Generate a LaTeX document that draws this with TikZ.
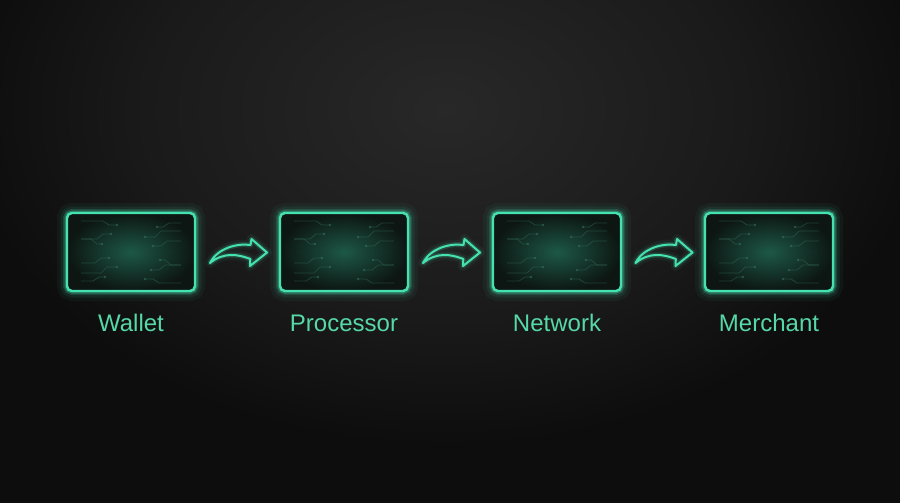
\documentclass[tikz,border=0pt]{standalone}
\usepackage{fontspec}
\setmainfont{Liberation Sans}
\usetikzlibrary{calc}
\definecolor{bgtop}{HTML}{282828}
\definecolor{bgmid}{HTML}{1A1A1A}
\definecolor{bgdark}{HTML}{0D0D0D}
\definecolor{neon}{HTML}{45E2B0}
\definecolor{neontext}{HTML}{56D8A8}
\definecolor{cardin}{HTML}{1D5846}
\definecolor{cardout}{HTML}{0D1613}
\definecolor{trace}{HTML}{3C7C66}
\pgfdeclareradialshading{backglow}{\pgfpoint{0bp}{0bp}}{color(0bp)=(bgtop); color(15bp)=(bgmid); color(24bp)=(bgdark); color(50bp)=(bgdark)}
\tikzset{
  card/.style={minimum width=128pt, minimum height=78pt, rounded corners=5pt, inner sep=0pt,
    preaction={draw=neon, line width=20pt, draw opacity=0.05},
    preaction={draw=neon, line width=13pt, draw opacity=0.08},
    preaction={draw=neon, line width=8pt, draw opacity=0.16},
    preaction={draw=neon, line width=5pt, draw opacity=0.32},
    inner color=cardin, outer color=cardout, draw=neon, line width=2.4pt},
  lbl/.style={text=neontext, font=\fontsize{24}{29}\selectfont, anchor=base, inner sep=0pt},
  flow/.style={draw=neon, line width=2pt, line join=round,
    preaction={draw=neon, line width=10pt, draw opacity=0.06, line join=round},
    preaction={draw=neon, line width=5pt, draw opacity=0.18, line join=round}},
  wire/.style={draw=trace, line width=0.7pt, draw opacity=0.4},
}
\begin{document}
\begin{tikzpicture}[x=1pt,y=-1pt]
\useasboundingbox (0,0) rectangle (900,503);
\begin{scope}
\clip (0,0) rectangle (900,503);
\fill[bgdark] (0,0) rectangle (900,503);
\shade[shading=backglow] (445,110) ellipse [x radius=500, y radius=350];
\end{scope}
\node[card] (wallet) at (131,252) {};
\node[card] (processor) at (344,252) {};
\node[card] (network) at (557,252) {};
\node[card] (merchant) at (769,252) {};
\foreach \n in {wallet,processor,network,merchant}{
  \foreach \s in {1,-1}{
    \begin{scope}[shift={(\n.center)}, xscale=\s, yscale=\s]
      \foreach \xd/\yy/\xb/\dy in {-14/-27/-22/-4, -20/-18/-28/5, -29/-8/-34/-5, -22/6/-30/5, -14/15/-24/6, -26/25/-32/4}{
        \draw[wire] (\xd,\yy) -- (\xb,\yy) -- ++(-6,\dy) -- (-50,\yy+\dy);
        \fill[trace, opacity=0.5] (\xd,\yy) circle (1.4);
      }
    \end{scope}}
}
\foreach \a/\b in {wallet/processor, processor/network, network/merchant}{
  \path[flow, shift={($(\a.east)!0.5!(\b.west)$)}] (-27.5,11) .. controls (-20,-4) and (0,-9) .. (13,-7) -- (14,-13) -- (29.5,0.5) -- (12.5,14) -- (12.8,7) .. controls (0,2) and (-14,0) .. (-27.5,11) -- cycle;
}
\node[lbl] (walletlbl) at ([yshift=-39pt]wallet.south) {Wallet};
\node[lbl] (processorlbl) at ([yshift=-39pt]processor.south) {Processor};
\node[lbl] (networklbl) at ([yshift=-39pt]network.south) {Network};
\node[lbl] (merchantlbl) at ([yshift=-39pt]merchant.south) {Merchant};
\end{tikzpicture}
\end{document}
